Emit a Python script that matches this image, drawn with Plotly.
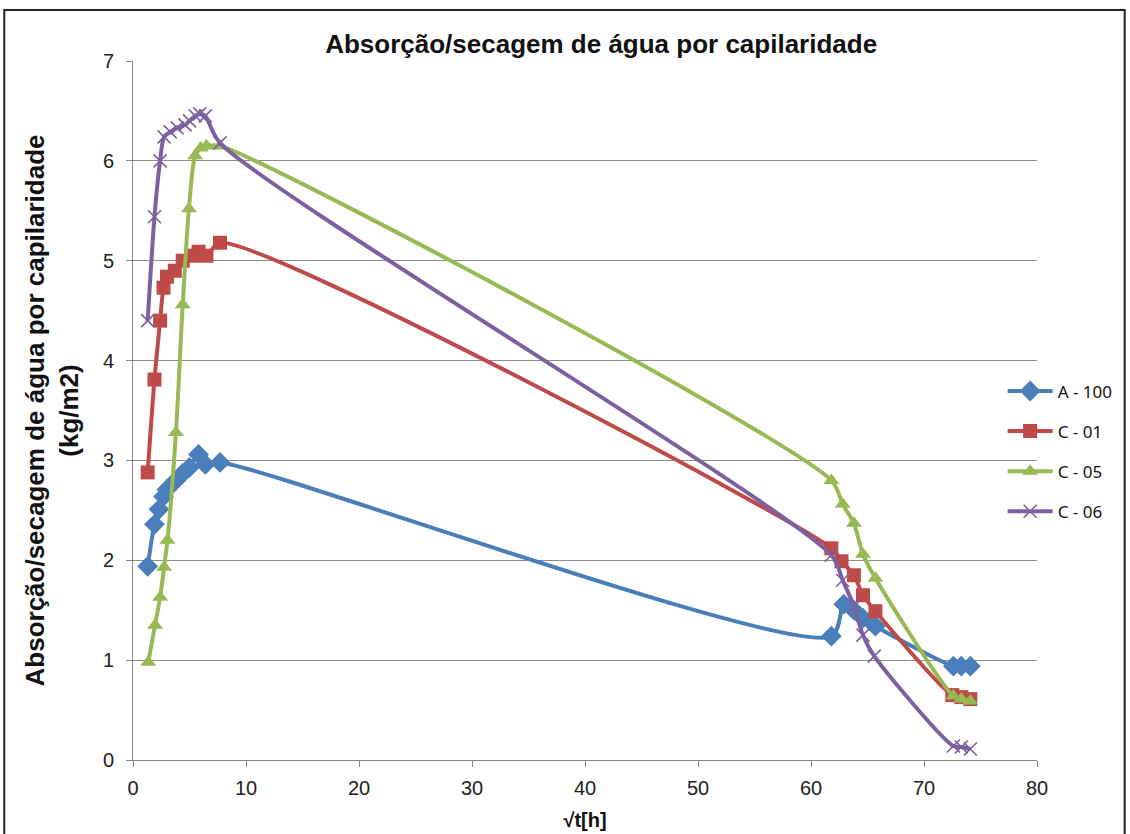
import plotly.graph_objects as go

# Absorption / drying curves, water uptake by capillarity vs sqrt(t)
a100_x = [1.3, 1.9, 2.3, 2.7, 3.0, 3.8, 4.4, 5.0, 5.8, 6.4, 7.7,
          61.8, 62.9, 63.8, 64.6, 65.7, 72.6, 73.3, 74.1]
a100_y = [1.94, 2.36, 2.51, 2.64, 2.71, 2.80, 2.87, 2.93, 3.06, 2.96, 2.98,
          1.24, 1.56, 1.50, 1.42, 1.34, 0.94, 0.94, 0.94]

c01_x = [1.3, 1.9, 2.4, 2.7, 3.0, 3.7, 4.4, 5.3, 5.8, 6.5, 7.7,
         61.8, 62.7, 63.8, 64.6, 65.7, 72.5, 73.3, 74.1]
c01_y = [2.88, 3.81, 4.40, 4.73, 4.84, 4.90, 5.00, 5.05, 5.09, 5.05, 5.18,
         2.12, 1.99, 1.85, 1.65, 1.49, 0.65, 0.63, 0.61]

c05_x = [1.35, 1.95, 2.4, 2.75, 3.05, 3.8, 4.4, 4.95, 5.5, 6.0, 6.5, 7.7,
         61.8, 62.8, 63.8, 64.6, 65.7, 72.6, 73.3, 74.1]
c05_y = [0.98, 1.35, 1.63, 1.93, 2.20, 3.28, 4.56, 5.52, 6.05, 6.13, 6.15, 6.15,
         2.80, 2.56, 2.37, 2.06, 1.82, 0.64, 0.61, 0.59]

c06_x = [1.3, 1.9, 2.4, 2.75, 3.3, 3.9, 4.6, 5.0, 5.5, 5.9, 6.4, 7.7,
         61.8, 62.8, 63.8, 64.6, 65.6, 72.6, 73.3, 74.1]
c06_y = [4.40, 5.44, 6.00, 6.24, 6.29, 6.33, 6.36, 6.40, 6.45, 6.47, 6.45, 6.18,
         2.05, 1.80, 1.54, 1.25, 1.04, 0.14, 0.13, 0.11]

series = [
    ("A - 100", a100_x, a100_y, "#4A7EBB", "diamond", 16, 0),
    ("C - 01", c01_x, c01_y, "#BE4B48", "square", 14, 0),
    ("C - 05", c05_x, c05_y, "#98B954", "triangle-up", 14, 0),
    ("C - 06", c06_x, c06_y, "#7D60A0", "x-thin-open", 13, 1.6),
]

fig = go.Figure()
for i, (name, xs, ys, color, symbol, size, mlw) in enumerate(series):
    fig.add_trace(go.Scatter(
        x=xs, y=ys, name=name, mode="lines+markers",
        line=dict(color=color, width=4, shape="spline", smoothing=0.8),
        marker=dict(symbol=symbol, size=size, color=color,
                    line=dict(color=color, width=mlw)),
        legendgroup=f"g{i}",
    ))

axis_font = dict(family="Liberation Sans, Arial", size=20, color="#222")

fig.update_layout(
    width=1130, height=834,
    margin=dict(l=133, r=91, t=61, b=74),
    paper_bgcolor="white", plot_bgcolor="white",
    title=dict(text="<b>Absorção/secagem de água por capilaridade</b>",
               x=0.532, xanchor="center", y=0.947, yanchor="middle",
               font=dict(family="Liberation Sans, Arial", size=26, color="#111")),
    xaxis=dict(range=[0, 80], dtick=10, showgrid=False, zeroline=False,
               showline=True, linecolor="#868686", linewidth=1,
               ticks="outside", ticklen=6, tickcolor="#868686",
               tickfont=axis_font, ticklabelstandoff=4, automargin=False,
               title=dict(text="<b>√t[h]</b>", font=dict(family="Liberation Sans, Arial", size=20, color="#111"),
                          standoff=14)),
    yaxis=dict(range=[0, 7], dtick=1, showgrid=True, gridcolor="#8C8C8C", gridwidth=1,
               zeroline=False, showline=True, linecolor="#868686", linewidth=1,
               ticks="outside", ticklen=6, tickcolor="#868686",
               tickfont=axis_font, ticklabelstandoff=8, automargin=False,
               title=dict(text="<b>Absorção/secagem de água por capilaridade<br>(kg/m2)</b>",
                          font=dict(family="Liberation Sans, Arial", size=26, color="#111"),
                          standoff=16)),
    legend=dict(x=0.962, y=0.553, xanchor="left", yanchor="top",
                font=dict(family="Noto Sans, Open Sans", size=17, color="#111"),
                traceorder="grouped", tracegroupgap=15, itemwidth=45,
                bgcolor="rgba(0,0,0,0)"),
    shapes=[dict(type="rect", xref="paper", yref="paper",
                 x0=-0.1424, x1=1.097, y0=-0.12, y1=1.073,
                 line=dict(color="#222", width=2), fillcolor="rgba(0,0,0,0)")],
)

fig.write_html("out.html")
